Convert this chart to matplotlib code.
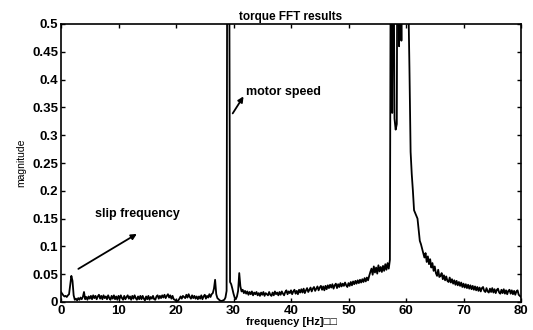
import numpy as np
import matplotlib
matplotlib.use("Agg")
import matplotlib.pyplot as plt

# torque FFT spectrum, one value every 0.2 Hz from 0 to 80 Hz
freq_step = 0.2
mag = [
    0.018, 0.015, 0.012, 0.010, 0.011, 0.009, 0.012, 0.014, 0.030, 0.047,   # 0
    0.038, 0.012, 0.004, 0.006, 0.003, 0.007, 0.004, 0.008, 0.005, 0.009,   # 2
    0.018, 0.005, 0.009, 0.004, 0.010, 0.006, 0.011, 0.005, 0.012, 0.007,   # 4
    0.011, 0.005, 0.010, 0.013, 0.006, 0.011, 0.005, 0.012, 0.007, 0.010,   # 6
    0.005, 0.012, 0.007, 0.004, 0.011, 0.006, 0.012, 0.005, 0.010, 0.004,   # 8
    0.011, 0.006, 0.012, 0.007, 0.004, 0.011, 0.005, 0.009, 0.012, 0.006,   # 10
    0.010, 0.004, 0.011, 0.006, 0.012, 0.007, 0.004, 0.010, 0.005, 0.011,   # 12
    0.005, 0.011, 0.006, 0.003, 0.010, 0.005, 0.011, 0.004, 0.009, 0.006,   # 14
    0.011, 0.005, 0.004, 0.010, 0.012, 0.006, 0.011, 0.007, 0.012, 0.008,   # 16
    0.013, 0.007, 0.011, 0.014, 0.008, 0.012, 0.006, 0.011, 0.005, 0.004,   # 18
    0.002, 0.001, 0.003, 0.006, 0.010, 0.006, 0.011, 0.009, 0.007, 0.013,   # 20
    0.008, 0.014, 0.009, 0.006, 0.012, 0.007, 0.011, 0.006, 0.010, 0.005,   # 22
    0.010, 0.006, 0.012, 0.005, 0.010, 0.013, 0.006, 0.011, 0.008, 0.014,   # 24
    0.009, 0.014, 0.016, 0.024, 0.040, 0.014, 0.007, 0.005, 0.003, 0.002,   # 26
    0.002, 0.003, 0.004, 0.008, 0.020, 1.200, 0.900, 0.036, 0.032, 0.024,   # 28
    0.015, 0.008, 0.005, 0.010, 0.020, 0.052, 0.028, 0.019, 0.022, 0.016,   # 30
    0.020, 0.015, 0.019, 0.013, 0.018, 0.014, 0.019, 0.012, 0.017, 0.014,   # 32
    0.018, 0.012, 0.016, 0.011, 0.017, 0.013, 0.018, 0.011, 0.016, 0.014,   # 34
    0.012, 0.018, 0.013, 0.011, 0.017, 0.012, 0.019, 0.014, 0.017, 0.012,   # 36
    0.018, 0.013, 0.019, 0.015, 0.012, 0.018, 0.021, 0.014, 0.019, 0.016,   # 38
    0.021, 0.014, 0.019, 0.022, 0.015, 0.020, 0.014, 0.022, 0.017, 0.023,   # 40
    0.017, 0.024, 0.016, 0.021, 0.025, 0.018, 0.022, 0.026, 0.019, 0.024,   # 42
    0.027, 0.020, 0.024, 0.028, 0.021, 0.026, 0.029, 0.022, 0.028, 0.021,   # 44
    0.029, 0.023, 0.030, 0.025, 0.031, 0.026, 0.032, 0.024, 0.030, 0.033,   # 46
    0.025, 0.032, 0.027, 0.034, 0.028, 0.033, 0.029, 0.035, 0.030, 0.027,   # 48
    0.034, 0.029, 0.036, 0.030, 0.037, 0.032, 0.038, 0.033, 0.039, 0.034,   # 50
    0.040, 0.035, 0.041, 0.036, 0.043, 0.037, 0.044, 0.039, 0.047, 0.054,   # 52
    0.060, 0.049, 0.064, 0.053, 0.062, 0.051, 0.066, 0.055, 0.063, 0.054,   # 54
    0.065, 0.056, 0.068, 0.058, 0.070, 0.060, 0.076, 0.900, 0.340, 0.750,   # 56
    0.330, 0.310, 0.320, 1.100, 0.460, 0.900, 0.470, 2.500, 3.000, 2.000,   # 58
    1.200, 0.800, 0.550, 0.420, 0.270, 0.230, 0.200, 0.165, 0.160, 0.155,   # 60
    0.150, 0.130, 0.110, 0.104, 0.096, 0.088, 0.080, 0.088, 0.072, 0.082,   # 62
    0.068, 0.077, 0.062, 0.070, 0.056, 0.064, 0.052, 0.047, 0.058, 0.045,   # 64
    0.047, 0.052, 0.041, 0.048, 0.039, 0.046, 0.038, 0.036, 0.044, 0.035,   # 66
    0.041, 0.033, 0.039, 0.031, 0.038, 0.030, 0.036, 0.029, 0.035, 0.027,   # 68
    0.033, 0.026, 0.032, 0.025, 0.031, 0.024, 0.030, 0.023, 0.029, 0.022,   # 70
    0.028, 0.021, 0.027, 0.020, 0.026, 0.019, 0.025, 0.027, 0.020, 0.018,   # 72
    0.025, 0.019, 0.017, 0.024, 0.018, 0.025, 0.017, 0.023, 0.016, 0.022,   # 74
    0.024, 0.017, 0.015, 0.022, 0.016, 0.023, 0.015, 0.021, 0.014, 0.020,   # 76
    0.022, 0.015, 0.021, 0.014, 0.020, 0.013, 0.019, 0.021, 0.013, 0.011,   # 78
    0.009,
]
freq = np.arange(len(mag)) * freq_step

xticks = [0, 10, 20, 30, 40, 50, 60, 70, 80]
yticks = [0, 0.05, 0.1, 0.15, 0.2, 0.25, 0.3, 0.35, 0.4, 0.45, 0.5]
ytick_labels = ["0", "0.05", "0.1", "0.15", "0.2", "0.25", "0.3", "0.35", "0.4", "0.45", "0.5"]

plt.rcParams['font.family'] = ['Liberation Sans', 'DejaVu Sans']

fig = plt.figure(figsize=(5.33, 3.30), dpi=100)
ax = fig.add_axes([61 / 533, 28 / 330, 460 / 533, 278 / 330])

ax.plot(freq, mag, color="black", lw=1.3)
ax.set_xlim(0, 80)
ax.set_ylim(0, 0.5)
ax.set_xticks(xticks)
ax.set_yticks(yticks)
ax.set_yticklabels(ytick_labels)
ax.tick_params(direction="in", top=True, right=True, length=3, width=1,
               labelsize=9.5, pad=2)
for lab in ax.get_xticklabels() + ax.get_yticklabels():
    lab.set_fontweight("bold")
for sp in ax.spines.values():
    sp.set_linewidth(1.2)

ax.set_title("torque FFT results", fontsize=8.5, fontweight="bold", pad=3)
ax.set_xlabel("frequency [Hz]\u25a1\u25a1", fontsize=8, fontweight="bold", labelpad=0)
ax.set_ylabel("magnitude", fontsize=7.5, labelpad=4)

ax.annotate("motor speed", xy=(32.2, 0.375), xytext=(32.2, 0.378),
            fontsize=9, fontweight="bold", va="center")
ax.annotate("", xy=(32.0, 0.374), xytext=(29.6, 0.335),
            arrowprops=dict(arrowstyle="-|>", color="black", lw=1.3,
                            mutation_scale=8))
ax.annotate("slip frequency", xy=(5.9, 0.158), xytext=(5.9, 0.158),
            fontsize=9, fontweight="bold", va="center")
ax.annotate("", xy=(13.6, 0.125), xytext=(2.6, 0.057),
            arrowprops=dict(arrowstyle="-|>", color="black", lw=1.3,
                            mutation_scale=8))

fig.savefig("out.png", dpi=100)
